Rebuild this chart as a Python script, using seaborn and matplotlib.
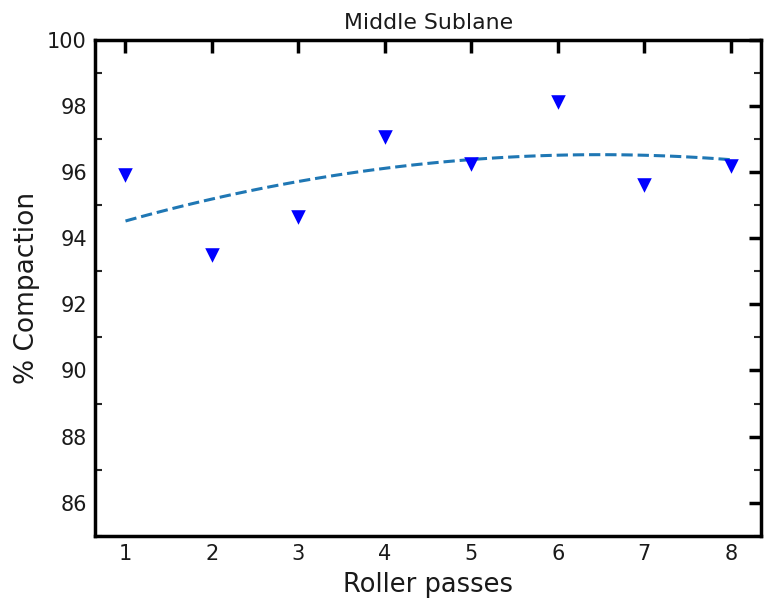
import numpy as np
import pandas as pd
import seaborn as sns
import matplotlib
matplotlib.use("Agg")
import matplotlib.pyplot as plt
from matplotlib.ticker import MultipleLocator

# Data
roller_passes = [1, 2, 3, 4, 5, 6, 7, 8]
compaction = [95.9, 93.5, 94.65, 97.07, 96.25, 98.13, 95.62, 96.19]
y_ticks = [86, 88, 90, 92, 94, 96, 98, 100]

df = pd.DataFrame({"Roller passes": roller_passes, "% Compaction": compaction})

sns.set_style("white")
plt.rcParams["font.family"] = ["DejaVu Sans"]

fig = plt.figure(figsize=(7.68, 6.13), dpi=100)
ax = fig.add_axes([0.124, 0.126, 0.867, 0.809])

sns.scatterplot(data=df, x="Roller passes", y="% Compaction", marker="v",
                color="blue", s=110, edgecolor="blue", linewidth=0, ax=ax, zorder=3)
sns.regplot(data=df, x="Roller passes", y="% Compaction", order=2, ci=None,
            scatter=False, truncate=True, ax=ax,
            line_kws=dict(color="#1f77b4", linestyle="--", linewidth=2.2))

ax.set_ylim(85, 100)
ax.set_xlim(0.65, 8.35)
ax.set_yticks(y_ticks)
ax.set_xticks(roller_passes)
ax.yaxis.set_minor_locator(MultipleLocator(1))

for side in ["left", "right", "top", "bottom"]:
    ax.spines[side].set_visible(True)
    ax.spines[side].set_linewidth(2.5)
    ax.spines[side].set_color("black")

ax.tick_params(which="major", direction="in", length=9, width=2.5, pad=6,
               top=True, right=True, labelsize=15, colors="black",
               labelcolor="#1a1a1a")
ax.tick_params(which="minor", direction="in", length=5, width=1.5,
               left=True, right=True, top=False, bottom=False)
ax.tick_params(axis="x", which="minor", bottom=False, top=False)

ax.set_xlabel("Roller passes", fontsize=18.5, color="#1a1a1a", labelpad=6)
ax.set_ylabel("% Compaction", fontsize=19, color="#1a1a1a", labelpad=5)
ax.set_title("Middle Sublane", fontsize=15.8, color="#1a1a1a", pad=8)

fig.savefig("out.png", dpi=100)
